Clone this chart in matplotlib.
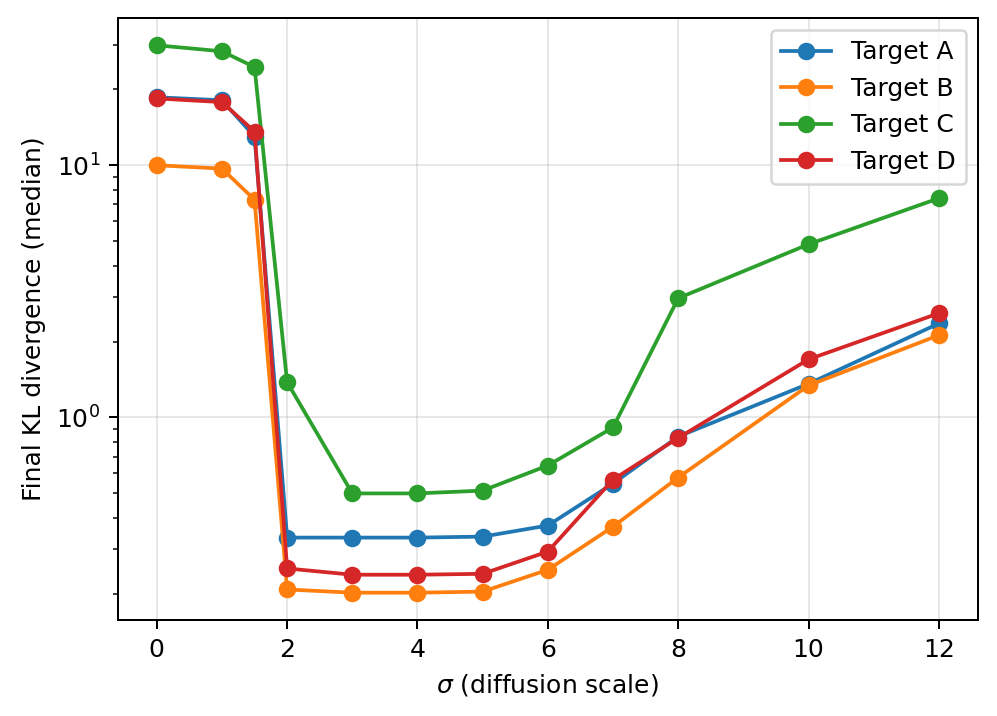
import numpy as np
import matplotlib
matplotlib.use("Agg")
import matplotlib.pyplot as plt

# sigma values and median final KL per target
sigma = [0, 1, 1.5, 2, 3, 4, 5, 6, 7, 8, 10, 12]
kl_a = [18.6, 18.1, 13.0, 0.334, 0.334, 0.334, 0.337, 0.373, 0.547, 0.84, 1.36, 2.36]
kl_b = [10.0, 9.7, 7.3, 0.208, 0.202, 0.202, 0.204, 0.249, 0.369, 0.578, 1.34, 2.12]
kl_c = [29.9, 28.3, 24.5, 1.38, 0.50, 0.50, 0.513, 0.645, 0.913, 2.97, 4.86, 7.4]
kl_d = [18.4, 17.8, 13.6, 0.252, 0.238, 0.238, 0.24, 0.294, 0.567, 0.83, 1.70, 2.59]
labels = ["Target A", "Target B", "Target C", "Target D"]

fig, ax = plt.subplots(figsize=(997 / 180, 716 / 180), dpi=180)
for ys, lab in zip([kl_a, kl_b, kl_c, kl_d], labels):
    ax.plot(sigma, ys, 'o-', label=lab)

ax.set_yscale('log')
ax.set_xlabel(r'$\sigma$ (diffusion scale)')
ax.set_ylabel('Final KL divergence (median)')
ax.grid(True, alpha=0.3)
ax.legend(loc='upper right')
fig.subplots_adjust(left=0.118, right=0.981, top=0.975, bottom=0.134)
fig.savefig("out.png", dpi=180)
